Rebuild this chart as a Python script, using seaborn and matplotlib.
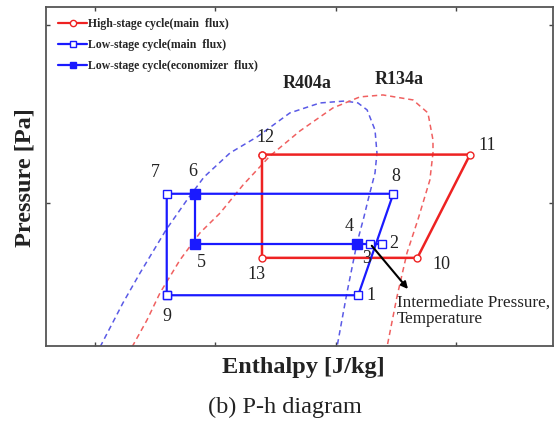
import numpy as np
import pandas as pd
import matplotlib
matplotlib.use("Agg")
import matplotlib.pyplot as plt
import seaborn as sns

# ---- state points: enthalpy [kJ/kg], pressure [MPa] ----
state_ids = ["1", "2", "3", "4", "5", "6", "7", "8", "9", "10", "11", "12", "13"]
state_h = [309.4, 319.2, 314.3, 309.0, 241.7, 241.7, 229.8, 324.0, 229.8, 334.0, 355.9, 269.4, 269.4]
state_p = [0.48, 0.77, 0.77, 0.77, 0.77, 1.05, 1.05, 1.05, 0.48, 0.69, 1.27, 1.27, 0.69]

# cycle paths (state order)
high_path = ["12", "11", "10", "13", "12"]
low_main_path = ["9", "1", "8", "6", "7", "9"]
low_mix_path = ["4", "3", "2"]
econ_path = ["6", "5", "4"]

# saturation domes
r404a_h = [202.1, 211.6, 218.7, 229.5, 238.2, 245.3, 256.1, 267.3, 281.0, 293.5, 303.9,
           309.3, 313.1, 316.4, 317.2, 316.4, 313.5, 311.8, 308.9, 304.7, 300.6]
r404a_p = [0.19, 0.437, 0.605, 0.847, 1.015, 1.144, 1.279, 1.369, 1.504, 1.560, 1.571,
           1.560, 1.521, 1.408, 1.279, 1.167, 1.015, 0.920, 0.773, 0.492, 0.19]
r134a_h = [215.4, 221.6, 227.0, 235.3, 243.6, 252.0, 261.5, 272.7, 285.2, 298.9, 310.1,
           319.7, 332.2, 338.4, 340.5, 340.5, 339.2, 334.2, 329.7, 325.5, 321.4]
r134a_p = [0.19, 0.341, 0.493, 0.678, 0.830, 0.942, 1.099, 1.262, 1.403, 1.532, 1.594,
           1.605, 1.577, 1.504, 1.352, 1.279, 1.127, 0.903, 0.718, 0.470, 0.19]

# label offsets around each state point (points)
label_offsets = {
    "1": (9, 0), "2": (8.4, 0), "3": (-2.4, -11), "4": (-5.8, 12), "5": (4.6, -13.5),
    "6": (-1.9, 15.8), "7": (-8.4, 15.1), "8": (1.9, 12.5), "9": (0, -15.6),
    "10": (17.4, -4.8), "11": (12.5, 6.7), "12": (2.2, 12.2), "13": (-3.8, -12),
}

states = pd.DataFrame({"h": state_h, "p": state_p}, index=state_ids)


def path_frame(path):
    return pd.DataFrame({"h": states.loc[path, "h"].values,
                         "p": states.loc[path, "p"].values,
                         "order": range(len(path))})


sns.set_theme(style="ticks")
plt.rcParams["font.family"] = ["Liberation Serif", "DejaVu Serif"]
plt.rcParams["xtick.direction"] = "in"
plt.rcParams["ytick.direction"] = "in"

RED = "#ee2222"
BLUE = "#1a1aff"
RED_D = "#f06060"
BLUE_D = "#5a5ae6"

fig = plt.figure(figsize=(5.54, 4.21), dpi=100)
ax = fig.add_axes([46 / 554, 1 - 345.7 / 421, 507 / 554, 338.7 / 421])

# saturation domes
dome_r404 = pd.DataFrame({"h": r404a_h, "p": r404a_p})
dome_r134 = pd.DataFrame({"h": r134a_h, "p": r134a_p})
sns.lineplot(data=dome_r404, x="h", y="p", sort=False, estimator=None, ax=ax,
             color=BLUE_D, lw=1.1, linestyle=(0, (3.5, 2.5)))
sns.lineplot(data=dome_r134, x="h", y="p", sort=False, estimator=None, ax=ax,
             color=RED_D, lw=1.1, linestyle=(0, (3.5, 2.5)))

# cycles
sns.lineplot(data=path_frame(high_path), x="h", y="p", sort=False, estimator=None, ax=ax,
             color=RED, lw=1.8, marker="o", markersize=5, markerfacecolor="white",
             markeredgecolor=RED, markeredgewidth=1.0)
sns.lineplot(data=path_frame(low_main_path), x="h", y="p", sort=False, estimator=None, ax=ax,
             color=BLUE, lw=1.6, marker="s", markersize=6, markerfacecolor="white",
             markeredgecolor=BLUE, markeredgewidth=1.0)
sns.lineplot(data=path_frame(low_mix_path), x="h", y="p", sort=False, estimator=None, ax=ax,
             color=BLUE, lw=1.6, marker="s", markersize=6, markerfacecolor="white",
             markeredgecolor=BLUE, markeredgewidth=1.0)
sns.lineplot(data=path_frame(econ_path), x="h", y="p", sort=False, estimator=None, ax=ax,
             color=BLUE, lw=1.6, marker="s", markersize=6.5, markerfacecolor=BLUE,
             markeredgecolor=BLUE, markeredgewidth=1.0)

# state numbers
for sid, (dx, dy) in label_offsets.items():
    ax.annotate(sid, xy=(states.loc[sid, "h"], states.loc[sid, "p"]), xytext=(dx, dy),
                textcoords="offset points", ha="center", va="center", fontsize=13,
                color="#222222")

# refrigerant names
ax.text(288.0, 1.671, "R404a", ha="center", va="center", fontsize=13,
        fontweight="bold", color="#222222")
ax.text(326.5, 1.693, "R134a", ha="center", va="center", fontsize=13,
        fontweight="bold", color="#222222")

# intermediate-state arrow
ax.annotate("", xy=(330.1, 0.515), xytext=(states.loc["3", "h"], states.loc["3", "p"]),
            arrowprops=dict(arrowstyle="-|>", color="black", lw=1.5, mutation_scale=10,
                            shrinkA=2, shrinkB=0))
ax.text(325.5, 0.392, "Intermediate Pressure,\nTemperature", ha="left", va="center",
        fontsize=12.3, linespacing=1.05, color="#222222", clip_on=False)

# legend
handles = [
    plt.Line2D([], [], color=RED, lw=1.6, marker="o", markersize=4.5,
               markerfacecolor="white", markeredgecolor=RED),
    plt.Line2D([], [], color=BLUE, lw=1.6, marker="s", markersize=5,
               markerfacecolor="white", markeredgecolor=BLUE),
    plt.Line2D([], [], color=BLUE, lw=1.6, marker="s", markersize=5,
               markerfacecolor=BLUE, markeredgecolor=BLUE),
]
labels = ["High-stage cycle(main  flux)", "Low-stage cycle(main  flux)",
          "Low-stage cycle(economizer  flux)"]
ax.legend(handles, labels, loc="upper left", bbox_to_anchor=(0.0144, 0.982), frameon=False,
          prop={"family": "Liberation Serif", "weight": "bold", "size": 8.5},
          handlelength=2.46, handletextpad=0.1, labelspacing=0.78, borderaxespad=0)

# axes (ticks first so the limits are not widened by them)
ax.set_xticks([200, 250, 300, 350, 400])
ax.set_yticks([1.0, 2.0])
ax.set_xlim(179.6, 390.4)
ax.set_ylim(0.1966, 2.099)
ax.tick_params(top=True, right=True, labelbottom=False, labelleft=False,
               length=3, width=1, color="#444444")
for s in ax.spines.values():
    s.set_color("#555555")
    s.set_linewidth(1.3)

ax.set_xlabel("Enthalpy [J/kg]", fontsize=17.5, fontweight="bold", color="#222222")
ax.xaxis.set_label_coords(0.507, -0.063)
ax.xaxis.label.set_va("center")
ax.set_ylabel("Pressure [Pa]", fontsize=17.5, fontweight="bold", color="#222222")
ax.yaxis.set_label_coords(-0.0414, 0.495)
ax.yaxis.label.set_va("center")

fig.text(285 / 554, 1 - 407 / 421, "(b) P-h diagram", ha="center", va="center",
         fontsize=17.5, color="#222222")

fig.savefig("out.png", dpi=100)
